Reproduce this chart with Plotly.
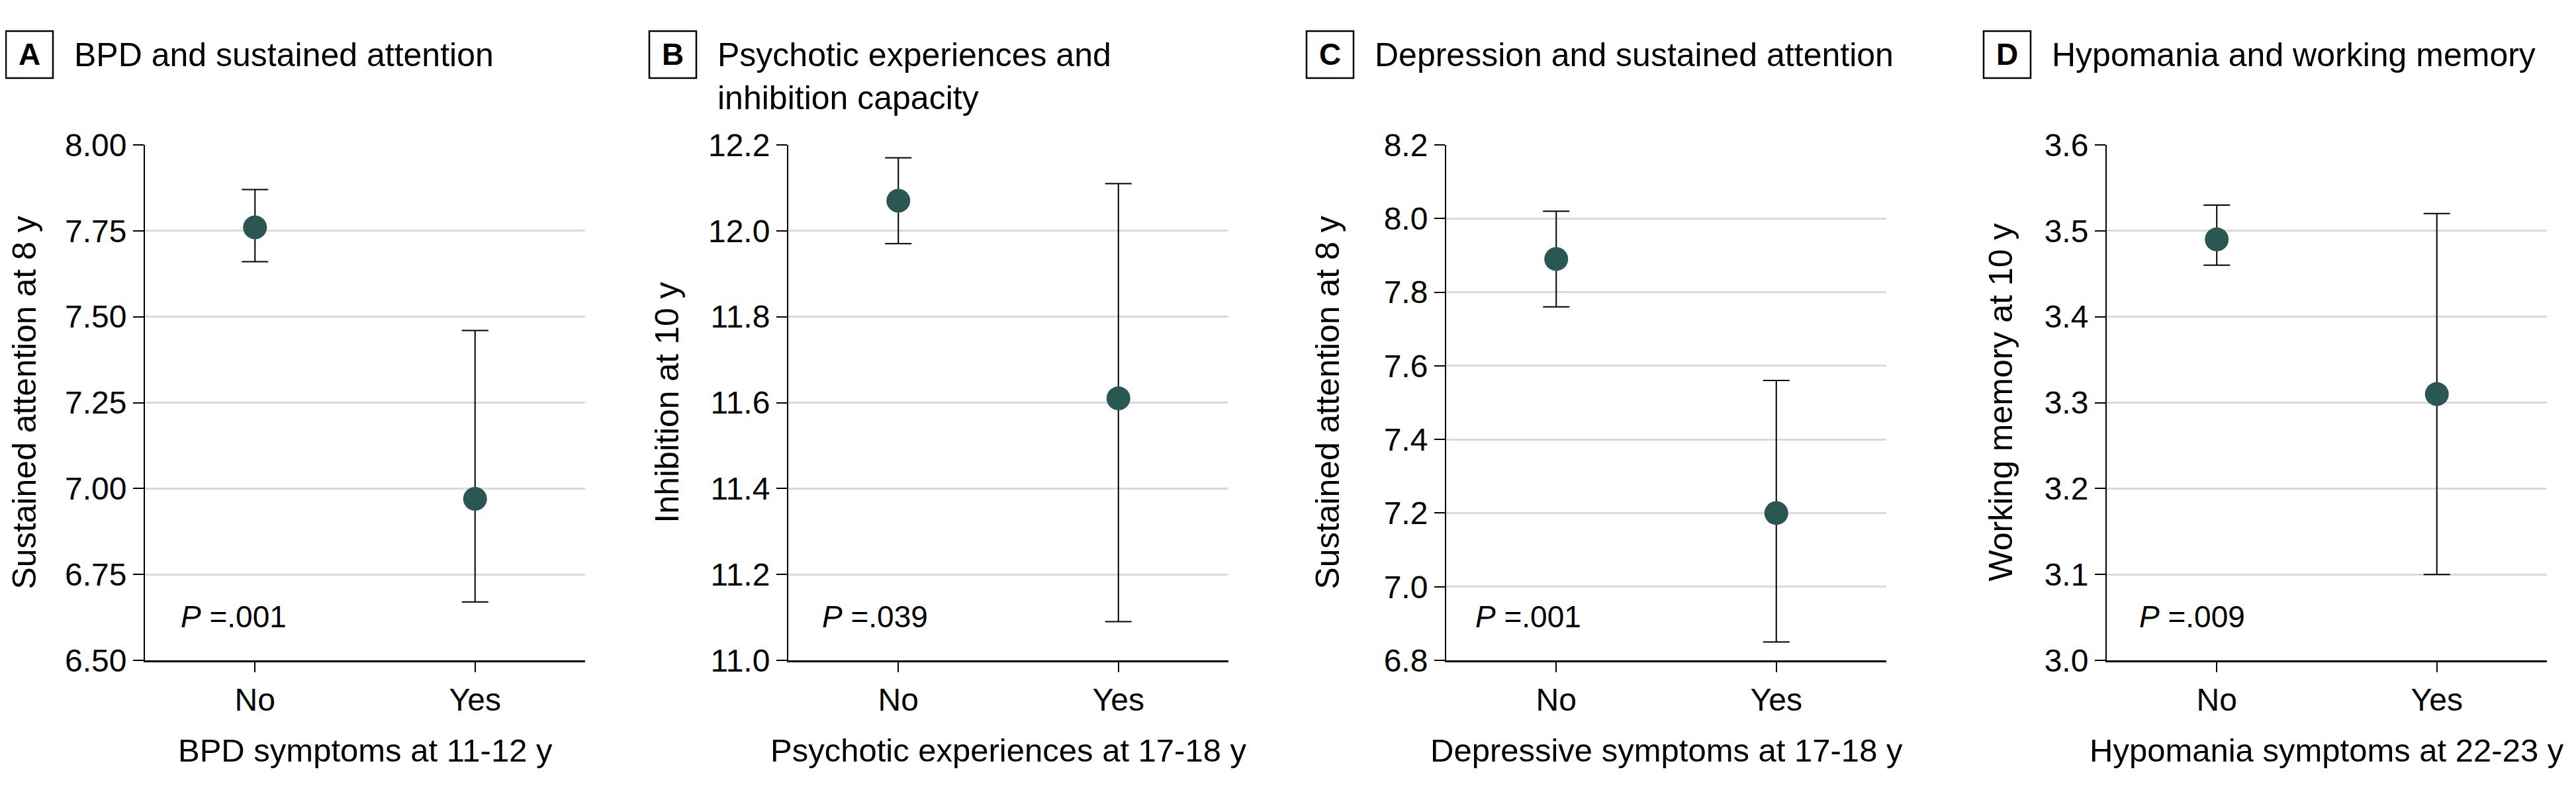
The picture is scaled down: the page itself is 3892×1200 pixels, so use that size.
import plotly.graph_objects as go

# ---- data ----
groups = ["No", "Yes"]

bpd_mean = [7.76, 6.97]
bpd_low = [7.66, 6.67]
bpd_high = [7.87, 7.46]

psy_mean = [12.07, 11.61]
psy_low = [11.97, 11.09]
psy_high = [12.17, 12.11]

dep_mean = [7.89, 7.20]
dep_low = [7.76, 6.85]
dep_high = [8.02, 7.56]

hyp_mean = [3.49, 3.31]
hyp_low = [3.46, 3.10]
hyp_high = [3.53, 3.52]

panel_letters = ["A", "B", "C", "D"]
panel_titles = [
    "BPD and sustained attention",
    "Psychotic experiences and<br>inhibition capacity",
    "Depression and sustained attention",
    "Hypomania and working memory",
]
x_titles = [
    "BPD symptoms at 11-12 y",
    "Psychotic experiences at 17-18 y",
    "Depressive symptoms at 17-18 y",
    "Hypomania symptoms at 22-23 y",
]
y_titles = [
    "Sustained attention at 8 y",
    "Inhibition at 10 y",
    "Sustained attention at 8 y",
    "Working memory at 10 y",
]
p_values = [".001", ".039", ".001", ".009"]
y_ranges = [[6.5, 8.0], [11.0, 12.2], [6.8, 8.2], [3.0, 3.6]]
y_dticks = [0.25, 0.2, 0.2, 0.1]
y_formats = [".2f", ".1f", ".1f", ".1f"]

series = [
    (bpd_mean, bpd_low, bpd_high),
    (psy_mean, psy_low, psy_high),
    (dep_mean, dep_low, dep_high),
    (hyp_mean, hyp_low, hyp_high),
]

# ---- layout, in page pixels of the 3892x1200 window ----
PAGE_W, PAGE_H = 3892, 1200
BODY = 8  # default page margin around the plot div
W, H = PAGE_W - 2 * BODY, PAGE_H - 2 * BODY
FONT = "Liberation Sans, Arial, sans-serif"
plot_left = [219, 1191, 2185, 3183]
plot_w = 665
plot_top, plot_bottom = 219, 998
box_left = [9, 981, 1974, 2997]
box_top, box_size = 47, 71
ytitle_gap = [164, 165, 161, 142]
p_gap = [52, 49, 42, 47]
MARKER = "#2b5753"


def px(x):
    return (x - BODY) / W


def py(y):
    return 1 - (y - BODY) / H


fig = go.Figure()
annotations = []
shapes = []

for i in range(4):
    n = "" if i == 0 else str(i + 1)
    mean, low, high = series[i]
    fig.add_trace(
        go.Scatter(
            x=groups,
            y=mean,
            mode="markers",
            xaxis="x" + n,
            yaxis="y" + n,
            marker=dict(size=36, color=MARKER, line=dict(width=0)),
            error_y=dict(
                type="data",
                symmetric=False,
                array=[h - m for h, m in zip(high, mean)],
                arrayminus=[m - l for m, l in zip(mean, low)],
                color="black",
                thickness=2,
                width=20,
            ),
            showlegend=False,
        )
    )

    x0 = plot_left[i]
    fig.layout["xaxis" + n] = dict(
        domain=[px(x0), px(x0 + plot_w)],
        anchor="y" + n,
        type="category",
        range=[-0.5, 1.5],
        showgrid=False,
        showline=True,
        linecolor="black",
        linewidth=3,
        ticks="outside",
        ticklen=15,
        tickwidth=1.5,
        tickcolor="black",
        tickfont=dict(family=FONT, size=48, color="black"),
        zeroline=False,
        automargin=False,
        fixedrange=True,
    )
    fig.layout["yaxis" + n] = dict(
        domain=[py(plot_bottom), py(plot_top)],
        anchor="x" + n,
        range=y_ranges[i],
        dtick=y_dticks[i],
        tick0=y_ranges[i][0],
        tickformat=y_formats[i],
        showgrid=True,
        gridcolor="#d9d9d9",
        gridwidth=3,
        showline=True,
        linecolor="black",
        linewidth=2,
        ticks="outside",
        ticklen=16,
        tickwidth=2,
        tickcolor="black",
        tickfont=dict(family=FONT, size=48, color="black"),
        zeroline=False,
        automargin=False,
        fixedrange=True,
    )

    # panel letter box
    bl = box_left[i]
    shapes.append(dict(
        type="rect", xref="paper", yref="paper",
        x0=px(bl), x1=px(bl + box_size), y0=py(box_top + box_size), y1=py(box_top),
        line=dict(color="black", width=2.5), fillcolor="white",
    ))
    annotations.append(dict(
        text="<b>%s</b>" % panel_letters[i], xref="paper", yref="paper",
        x=px(bl + box_size / 2), y=py(box_top + box_size / 2),
        xanchor="center", yanchor="middle", showarrow=False,
        font=dict(family=FONT, size=46, color="black"),
    ))
    # panel title
    annotations.append(dict(
        text=panel_titles[i], xref="paper", yref="paper",
        x=px(bl + 101), y=py(102 - 0.905 * 50 - 4),
        xanchor="left", yanchor="top", align="left", showarrow=False,
        font=dict(family=FONT, size=50, color="black"),
    ))
    # y title
    annotations.append(dict(
        text=y_titles[i], xref="paper", yref="paper",
        x=px(x0 - ytitle_gap[i] + 11), y=py((plot_top + plot_bottom) / 2),
        xanchor="right", yanchor="middle", textangle=-90, showarrow=False,
        font=dict(family=FONT, size=50, color="black"),
    ))
    # x title
    annotations.append(dict(
        text=x_titles[i], xref="paper", yref="paper",
        x=px(x0 + plot_w / 2), y=py(1150 - 0.905 * 49 - 1),
        xanchor="center", yanchor="top", showarrow=False,
        font=dict(family=FONT, size=49, color="black"),
    ))
    # P value
    annotations.append(dict(
        text="<i>P</i> =%s" % p_values[i], xref="paper", yref="paper",
        x=px(x0 + p_gap[i]), y=py(932),
        xanchor="left", yanchor="middle", showarrow=False,
        font=dict(family=FONT, size=46, color="black"),
    ))

fig.update_layout(
    width=W,
    height=H,
    autosize=False,
    margin=dict(l=0, r=0, t=0, b=0, pad=0, autoexpand=False),
    paper_bgcolor="white",
    plot_bgcolor="white",
    annotations=annotations,
    shapes=shapes,
    font=dict(family=FONT, color="black"),
)

fig.write_html("out.html")
